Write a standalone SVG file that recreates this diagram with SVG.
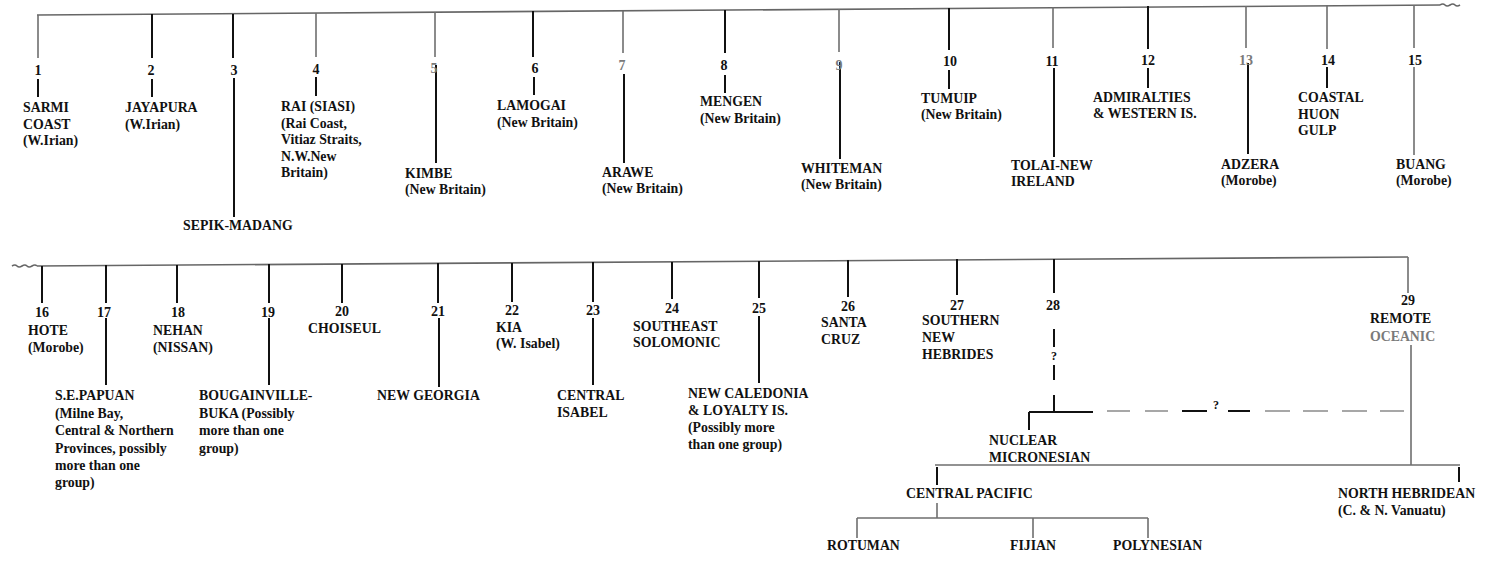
<svg xmlns="http://www.w3.org/2000/svg" width="1495" height="562" viewBox="0 0 1495 562">
  <style>
    text { font-family: "Liberation Serif", "Times New Roman", serif; font-weight: bold; font-size: 13.8px; fill: #111; }
    .num { font-size: 14px; text-anchor: middle; }
    .q { font-size: 12px; text-anchor: middle; }
    .gt { fill: #7a7a7a; }
    .k { stroke: #111; stroke-width: 2; fill: none; }
    .g { stroke: #6e6e6e; stroke-width: 1.6; fill: none; }
    .base { stroke: #666; stroke-width: 1.6; fill: none; }
    .dk { stroke: #111; stroke-width: 2; }
    .dg { stroke: #8a8a8a; stroke-width: 1.5; }
  </style>
  <rect width="1495" height="562" fill="#fff"/>

  <!-- connectors: backbones, drop lines, sub-branches -->
  <g id="connectors">
    <!-- upper backbone -->
    <path class="base" d="M37 15 L1440 5"/>
    <path class="base" d="M1440 5 q3 -2 5 0 t5 0 t5 0 t5 0" stroke-width="1"/>
    <!-- lower backbone -->
    <path class="base" d="M12 266 q3 -2 5 0 t5 0 t5 0 t5 0 t5 0" stroke-width="1"/>
    <path class="base" d="M37 266 L1408 257"/>

    <!-- upper drops -->
    <line class="g" x1="38" y1="15" x2="38" y2="58"/>
    <line class="k" x1="38" y1="79" x2="38" y2="97"/>
    <line class="k" x1="152" y1="14" x2="152" y2="58"/>
    <line class="k" x1="152" y1="79" x2="152" y2="97"/>
    <line class="k" x1="233" y1="14" x2="233" y2="58"/>
    <line class="k" x1="234" y1="78" x2="234" y2="217"/>
    <line class="g" x1="316" y1="13" x2="316" y2="57"/>
    <line class="k" x1="316" y1="77" x2="316" y2="96"/>
    <line class="g" x1="435" y1="12" x2="435" y2="57"/>
    <line class="k" x1="436" y1="65" x2="436" y2="163"/>
    <line class="k" x1="533" y1="11" x2="533" y2="57"/>
    <line class="k" x1="534" y1="77" x2="534" y2="95"/>
    <line class="g" x1="623" y1="11" x2="623" y2="53"/>
    <line class="k" x1="624" y1="74" x2="624" y2="163"/>
    <line class="k" x1="725" y1="10" x2="725" y2="53"/>
    <line class="k" x1="725" y1="75" x2="725" y2="93"/>
    <line class="g" x1="839" y1="9" x2="839" y2="52"/>
    <line class="k" x1="840" y1="62" x2="840" y2="159"/>
    <line class="k" x1="949" y1="8" x2="949" y2="50"/>
    <line class="k" x1="949" y1="70" x2="949" y2="89"/>
    <line class="g" x1="1053" y1="7" x2="1053" y2="48"/>
    <line class="k" x1="1054" y1="68" x2="1054" y2="157"/>
    <line class="k" x1="1148" y1="6" x2="1148" y2="49"/>
    <line class="k" x1="1148" y1="68" x2="1148" y2="88"/>
    <line class="g" x1="1246" y1="6" x2="1246" y2="48"/>
    <line class="k" x1="1248" y1="63" x2="1248" y2="154"/>
    <line class="g" x1="1327" y1="5" x2="1327" y2="49"/>
    <line class="k" x1="1327" y1="67" x2="1327" y2="88"/>
    <line class="g" x1="1414" y1="5" x2="1414" y2="48"/>
    <line class="g" x1="1414" y1="67" x2="1414" y2="155"/>

    <!-- lower drops -->
    <line class="k" x1="42" y1="266" x2="42" y2="303"/>
    <line class="k" x1="106" y1="265" x2="106" y2="303"/>
    <line class="k" x1="106" y1="318" x2="106" y2="385"/>
    <line class="k" x1="177" y1="265" x2="177" y2="303"/>
    <line class="k" x1="269" y1="264" x2="269" y2="303"/>
    <line class="k" x1="269" y1="318" x2="269" y2="385"/>
    <line class="k" x1="342" y1="264" x2="342" y2="303"/>
    <line class="k" x1="438" y1="263" x2="438" y2="303"/>
    <line class="k" x1="439" y1="318" x2="439" y2="387"/>
    <line class="k" x1="512" y1="263" x2="512" y2="302"/>
    <line class="k" x1="593" y1="262" x2="593" y2="302"/>
    <line class="k" x1="593" y1="318" x2="593" y2="385"/>
    <line class="k" x1="672" y1="262" x2="672" y2="299"/>
    <line class="k" x1="759" y1="261" x2="759" y2="298"/>
    <line class="k" x1="759" y1="316" x2="759" y2="383"/>
    <line class="k" x1="848" y1="260" x2="848" y2="297"/>
    <line class="k" x1="957" y1="259" x2="957" y2="295"/>
    <line class="k" x1="1054" y1="259" x2="1054" y2="293"/>
    <line class="g" x1="1408" y1="257" x2="1408" y2="293"/>
    <line class="g" x1="1411" y1="345" x2="1411" y2="465"/>

    <!-- uncertain link from 28 -->
    <line class="dk" x1="1054" y1="329" x2="1054" y2="347"/>
    <line class="dk" x1="1054" y1="365" x2="1054" y2="380"/>
    <line class="dk" x1="1054" y1="395" x2="1054" y2="413"/>
    <line class="dk" x1="1029" y1="412" x2="1093" y2="412"/>
    <line class="dk" x1="1029" y1="412" x2="1029" y2="430"/>
    <line class="dg" x1="1107" y1="411" x2="1130" y2="411"/>
    <line class="dg" x1="1145" y1="411" x2="1168" y2="411"/>
    <line class="dk" x1="1182" y1="411" x2="1207" y2="411"/>
    <line class="dk" x1="1228" y1="411" x2="1250" y2="411"/>
    <line class="dg" x1="1265" y1="411" x2="1290" y2="411"/>
    <line class="dg" x1="1303" y1="411" x2="1328" y2="411"/>
    <line class="dg" x1="1342" y1="411" x2="1367" y2="411"/>
    <line class="dg" x1="1380" y1="411" x2="1404" y2="411"/>

    <!-- Remote Oceanic split -->
    <line class="g" x1="935" y1="465" x2="1460" y2="465"/>
    <line class="k" x1="937" y1="467" x2="937" y2="485"/>
    <line class="k" x1="1459" y1="467" x2="1459" y2="482"/>

    <!-- Central Pacific split -->
    <line class="g" x1="937" y1="503" x2="937" y2="518"/>
    <line class="g" x1="857" y1="518" x2="1148" y2="518"/>
    <line class="g" x1="857" y1="518" x2="857" y2="538"/>
    <line class="g" x1="1033" y1="518" x2="1033" y2="538"/>
    <line class="g" x1="1148" y1="518" x2="1148" y2="538"/>
  </g>

  <!-- upper row of groups -->
  <g id="n1"><text class="num" x="38" y="75">1</text>
    <text x="23" y="112">SARMI</text><text x="23" y="128.5">COAST</text><text x="23" y="145">(W.Irian)</text></g>
  <g id="n2"><text class="num" x="151" y="75">2</text>
    <text x="125" y="112">JAYAPURA</text><text x="125" y="128.5">(W.Irian)</text></g>
  <g id="n3"><text class="num" x="234" y="75">3</text>
    <text x="183" y="230">SEPIK-MADANG</text></g>
  <g id="n4"><text class="num" x="316" y="74">4</text>
    <text x="281" y="111">RAI (SIASI)</text><text x="281" y="127.5">(Rai Coast,</text><text x="281" y="144">Vitiaz Straits,</text><text x="281" y="160.5">N.W.New</text><text x="281" y="177">Britain)</text></g>
  <g id="n5"><text class="num gt" x="434" y="73">5</text>
    <text x="405" y="178">KIMBE</text><text x="405" y="194">(New Britain)</text></g>
  <g id="n6"><text class="num" x="535" y="73">6</text>
    <text x="497" y="110">LAMOGAI</text><text x="497" y="126.5">(New Britain)</text></g>
  <g id="n7"><text class="num gt" x="622" y="70">7</text>
    <text x="602" y="177">ARAWE</text><text x="602" y="193">(New Britain)</text></g>
  <g id="n8"><text class="num" x="724" y="70">8</text>
    <text x="700" y="106">MENGEN</text><text x="700" y="122.5">(New Britain)</text></g>
  <g id="n9"><text class="num gt" x="839" y="70">9</text>
    <text x="801" y="173">WHITEMAN</text><text x="801" y="189">(New Britain)</text></g>
  <g id="n10"><text class="num" x="950" y="66">10</text>
    <text x="921" y="103">TUMUIP</text><text x="921" y="119">(New Britain)</text></g>
  <g id="n11"><text class="num" x="1052" y="66">11</text>
    <text x="1011" y="170">TOLAI-NEW</text><text x="1011" y="186">IRELAND</text></g>
  <g id="n12"><text class="num" x="1148" y="65">12</text>
    <text x="1093" y="102">ADMIRALTIES</text><text x="1093" y="117.5">&amp; WESTERN IS.</text></g>
  <g id="n13"><text class="num gt" x="1246" y="65">13</text>
    <text x="1221" y="169">ADZERA</text><text x="1221" y="185">(Morobe)</text></g>
  <g id="n14"><text class="num" x="1328" y="65">14</text>
    <text x="1298" y="102">COASTAL</text><text x="1298" y="118.5">HUON</text><text x="1298" y="135">GULP</text></g>
  <g id="n15"><text class="num" x="1415" y="65">15</text>
    <text x="1396" y="169">BUANG</text><text x="1396" y="185">(Morobe)</text></g>

  <!-- lower row of groups -->
  <g id="n16"><text class="num" x="42" y="317">16</text>
    <text x="28" y="335">HOTE</text><text x="28" y="352">(Morobe)</text></g>
  <g id="n17"><text class="num" x="104" y="317">17</text>
    <text x="55" y="400">S.E.PAPUAN</text><text x="55" y="417.5">(Milne Bay,</text><text x="55" y="435">Central &amp; Northern</text><text x="55" y="452.5">Provinces, possibly</text><text x="55" y="470">more than one</text><text x="55" y="487">group)</text></g>
  <g id="n18"><text class="num" x="178" y="317">18</text>
    <text x="153" y="335">NEHAN</text><text x="153" y="352">(NISSAN)</text></g>
  <g id="n19"><text class="num" x="268" y="317">19</text>
    <text x="199" y="400">BOUGAINVILLE-</text><text x="199" y="417.5">BUKA (Possibly</text><text x="199" y="435">more than one</text><text x="199" y="452.5">group)</text></g>
  <g id="n20"><text class="num" x="342" y="316">20</text>
    <text x="308" y="333">CHOISEUL</text></g>
  <g id="n21"><text class="num" x="438" y="316">21</text>
    <text x="377" y="400">NEW GEORGIA</text></g>
  <g id="n22"><text class="num" x="512" y="315">22</text>
    <text x="496" y="332">KIA</text><text x="496" y="348">(W. Isabel)</text></g>
  <g id="n23"><text class="num" x="593" y="315">23</text>
    <text x="557" y="400">CENTRAL</text><text x="557" y="417">ISABEL</text></g>
  <g id="n24"><text class="num" x="672" y="313">24</text>
    <text x="633" y="331">SOUTHEAST</text><text x="633" y="347">SOLOMONIC</text></g>
  <g id="n25"><text class="num" x="759" y="313">25</text>
    <text x="688" y="398">NEW CALEDONIA</text><text x="688" y="415">&amp; LOYALTY IS.</text><text x="688" y="432">(Possibly more</text><text x="688" y="448.5">than one group)</text></g>
  <g id="n26"><text class="num" x="848" y="311">26</text>
    <text x="821" y="327">SANTA</text><text x="821" y="344">CRUZ</text></g>
  <g id="n27"><text class="num" x="957" y="310">27</text>
    <text x="922" y="325">SOUTHERN</text><text x="922" y="342">NEW</text><text x="922" y="359">HEBRIDES</text></g>
  <g id="n28"><text class="num" x="1053" y="310">28</text>
    <text class="q" x="1054" y="360">?</text></g>
  <g id="n29"><text class="num" x="1408" y="305">29</text>
    <text x="1370" y="323">REMOTE</text><text class="gt" x="1370" y="341">OCEANIC</text></g>

  <!-- subgroups -->
  <g id="link-q"><text class="q" x="1216" y="409">?</text></g>
  <g id="nuclear-micronesian"><text x="989" y="445">NUCLEAR</text><text x="989" y="462">MICRONESIAN</text></g>
  <g id="central-pacific"><text x="906" y="498">CENTRAL PACIFIC</text></g>
  <g id="north-hebridean"><text x="1338" y="498">NORTH HEBRIDEAN</text><text x="1338" y="515">(C. &amp; N. Vanuatu)</text></g>
  <g id="rotuman"><text x="827" y="550">ROTUMAN</text></g>
  <g id="fijian"><text x="1010" y="550">FIJIAN</text></g>
  <g id="polynesian"><text x="1113" y="550">POLYNESIAN</text></g>
</svg>
